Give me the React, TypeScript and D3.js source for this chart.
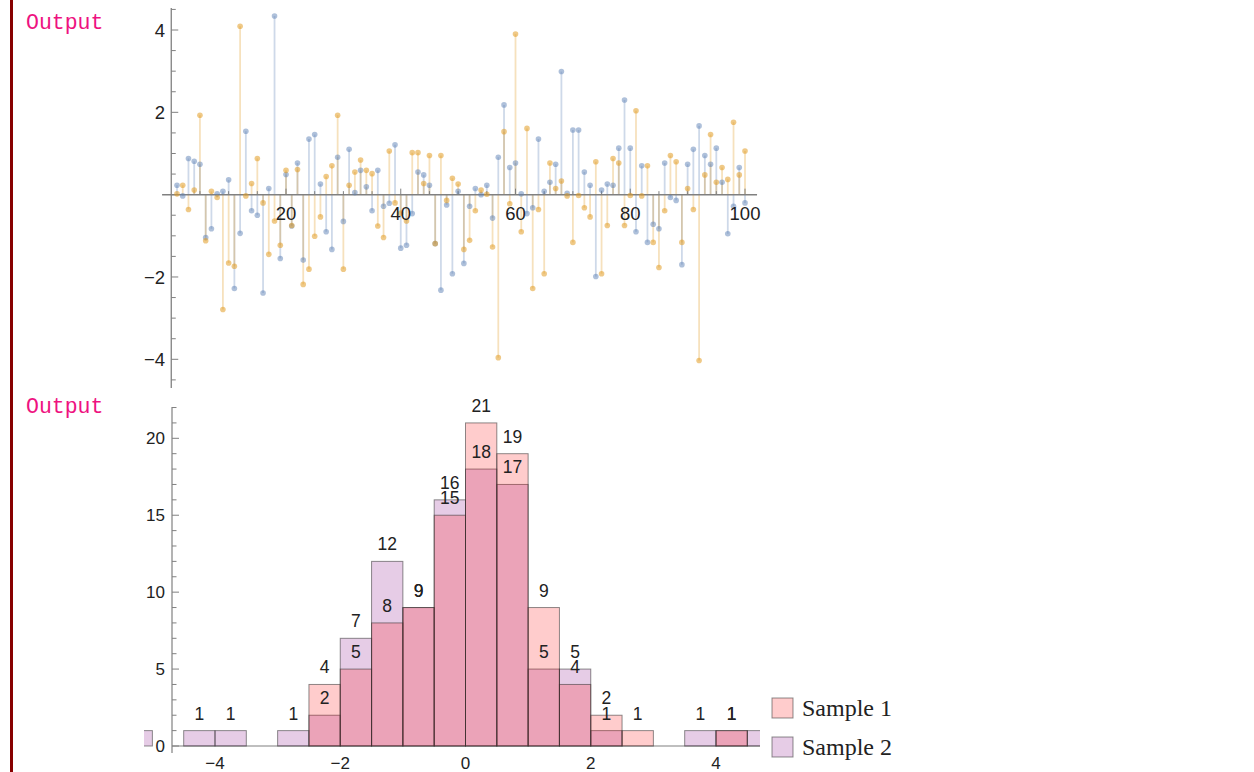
import React from "react";
import * as d3 from "d3";

// ---------- Stem plot data (index 1..100) ----------
const seriesBlue = [
  0.23, -0.03, 0.88, 0.81, 0.74, -1.04, -0.83, 0.02, 0.08, 0.36,
  -2.28, -0.94, 1.54, -0.39, -0.5, -2.39, 0.15, 4.34, -1.55, 0.49,
  -0.76, 0.77, -1.59, 1.35, 1.46, 0.26, -0.9, -1.33, 0.91, -0.65,
  1.1, 0.05, 0.59, 0.19, -0.39, 0.59, -0.28, -0.21, 1.21, -1.3,
  -1.23, -0.46, 0.55, 0.48, 0.23, -1.19, -2.32, -0.25, -1.92, 0.08,
  -1.67, -0.28, 0.15, 0.0, 0.23, -0.57, 0.91, 2.18, 0.66, 0.77,
  0.02, -0.46, -0.32, 1.35, 0.08, 0.3, 0.74, 2.99, 0.03, 1.57,
  1.57, 0.55, 0.23, -1.99, 0.11, 0.26, 0.23, 1.13, 2.3, 1.13,
  -0.9, 0.7, -1.16, -0.72, -0.83, 0.77, -0.07, -0.14, -1.7, 0.74,
  1.1, 1.67, 0.95, 0.74, 1.13, 0.3, -0.95, -0.28, 0.66, -0.2,
];
const seriesOrange = [
  0.02, 0.23, -0.36, 0.11, 1.93, -1.12, 0.08, -0.07, -2.79, -1.66,
  -1.74, 4.09, -0.03, 0.27, 0.88, -0.2, -1.45, -0.64, -1.23, 0.59,
  -0.75, 0.61, -2.18, -1.81, -1.01, -0.54, 0.44, 0.7, 1.93, -1.81,
  0.23, 0.55, 0.84, 0.59, 0.51, -0.76, -1.04, 1.06, -0.2, -0.45,
  -0.64, 1.02, 1.02, 0.27, 0.95, -1.19, 0.95, -0.14, 0.4, 0.26,
  -1.33, -1.11, -0.39, 0.11, 0.01, -1.27, -3.96, 1.53, -0.22, 3.9,
  -0.9, 1.61, -2.28, -0.36, -1.92, 0.77, 0.15, 0.33, -0.03, -1.16,
  -0.02, -0.32, -0.54, 0.8, -1.92, -0.75, 0.88, 0.77, -0.75, -0.02,
  2.04, -0.03, 0.7, -1.16, -1.77, -0.39, 0.95, 0.8, -1.16, 0.15,
  -0.36, -4.03, 0.48, 1.46, 0.3, 0.66, 0.37, 1.76, 0.48, 1.06,
];
const stemXTicks = [20, 40, 60, 80, 100];
const stemYTicks = [-4, -2, 2, 4];

// ---------- Histogram data ----------
const binEdges = [
  -5.5, -5, -4.5, -4, -3.5, -3, -2.5, -2, -1.5, -1, -0.5,
  0, 0.5, 1, 1.5, 2, 2.5, 3, 3.5, 4, 4.5, 5,
];
const sample1Counts = [0, 0, 0, 0, 0, 0, 4, 5, 8, 9, 15, 21, 19, 9, 4, 2, 1, 0, 0, 1, 0];
const sample2Counts = [1, 0, 1, 1, 0, 1, 2, 7, 12, 9, 16, 18, 17, 5, 5, 1, 0, 0, 1, 1, 1];
const histXTicks = [-4, -2, 0, 2, 4];
const histYTicks = [0, 5, 10, 15, 20];
const legendLabels = ["Sample 1", "Sample 2"];

const BLUE = "#5E81B5";
const ORANGE = "#E19C24";
const SANS = "'Liberation Sans', Arial, sans-serif";
const fmt = (v: number) => (v < 0 ? "\u2212" + Math.abs(v) : String(v));

export default function App() {
  // stem plot scales
  const sx = d3.scaleLinear().domain([0, 100]).range([171.26, 745]);
  const sy = d3.scaleLinear().domain([-4, 4]).range([359.3, 30]);
  const s0 = sy(0);
  const stemMinor = d3.range(-4.5, 4.51, 0.5);
  const stemXMinor = d3.range(5, 101, 5);

  // histogram scales
  const hx = d3.scaleLinear().domain([-4, 4]).range([215, 716]);
  const hy = d3.scaleLinear().domain([0, 20]).range([746, 438.3]);
  const h0 = hy(0);
  const histYMinor = d3.range(0, 23, 1);
  const clipL = 144;
  const clipR = 760;

  const bins = sample1Counts.map((c1, i) => ({
    x0: binEdges[i],
    x1: binEdges[i + 1],
    c1,
    c2: sample2Counts[i],
  }));

  return (
    <svg
      width={1254}
      height={772}
      style={{ position: "absolute", left: 0, top: 0, background: "#fff" }}
    >
      <defs>
        <clipPath id="histClip">
          <rect x={clipL} y={380} width={clipR - clipL} height={380} />
        </clipPath>
      </defs>
      <rect x={10} y={0} width={3} height={772} fill="#870000" />
      <text x={26} y={29} fontFamily="'Liberation Mono', 'DejaVu Sans Mono', monospace" fontSize={21.5} fill="#ee1280">
        Output
      </text>
      <text x={26} y={413} fontFamily="'Liberation Mono', 'DejaVu Sans Mono', monospace" fontSize={21.5} fill="#ee1280">
        Output
      </text>

      {/* ---------- Stem plot ---------- */}
      <g>
        {seriesBlue.map((v, i) => (
          <line key={"bs" + i} x1={sx(i + 1)} x2={sx(i + 1)} y1={s0} y2={sy(v)} stroke={BLUE} strokeOpacity={0.3} strokeWidth={1.8} />
        ))}
        {seriesOrange.map((v, i) => (
          <line key={"os" + i} x1={sx(i + 1)} x2={sx(i + 1)} y1={s0} y2={sy(v)} stroke={ORANGE} strokeOpacity={0.3} strokeWidth={1.8} />
        ))}
        {/* axes */}
        <line x1={sx(-1.6)} x2={sx(102.1)} y1={s0} y2={s0} stroke="#808080" strokeWidth={1.5} />
        <line x1={sx(0)} x2={sx(0)} y1={8} y2={388} stroke="#808080" strokeWidth={1.3} />
        {stemMinor.map((t) => {
          const major = Math.abs(t % 2) < 1e-9;
          return (
            <line key={"syt" + t} x1={sx(0)} x2={sx(0) + (major ? 7 : 4.5)} y1={sy(t)} y2={sy(t)} stroke="#808080" strokeWidth={1} />
          );
        })}
        {stemXMinor.map((t) => {
          const major = t % 20 === 0;
          return (
            <line key={"sxt" + t} x1={sx(t)} x2={sx(t)} y1={s0} y2={s0 - (major ? 6 : 3.5)} stroke="#808080" strokeWidth={1} />
          );
        })}
        {seriesBlue.map((v, i) => (
          <circle key={"bp" + i} cx={sx(i + 1)} cy={sy(v)} r={2.8} fill={BLUE} fillOpacity={0.5} />
        ))}
        {seriesOrange.map((v, i) => (
          <circle key={"op" + i} cx={sx(i + 1)} cy={sy(v)} r={2.8} fill={ORANGE} fillOpacity={0.55} />
        ))}
        {stemXTicks.map((t) => (
          <text key={"sxl" + t} x={sx(t)} y={220} textAnchor="middle" fontFamily={SANS} fontSize={18.5} fill="#222">
            {fmt(t)}
          </text>
        ))}
        {stemYTicks.map((t) => (
          <text key={"syl" + t} x={165} y={sy(t)} dy="0.36em" textAnchor="end" fontFamily={SANS} fontSize={18.5} fill="#222">
            {fmt(t)}
          </text>
        ))}
      </g>

      {/* ---------- Histogram ---------- */}
      <g>
        <line x1={172} x2={172} y1={407} y2={753} stroke="#808080" strokeWidth={1.2} />
        {histYMinor.map((t) => {
          const major = t % 5 === 0;
          return (
            <line key={"hyt" + t} x1={172} x2={172 + (major ? 7 : 4.5)} y1={hy(t)} y2={hy(t)} stroke="#808080" strokeWidth={1} />
          );
        })}
        <line x1={172} x2={clipR} y1={h0} y2={h0} stroke="#808080" strokeWidth={1.2} />
        <g clipPath="url(#histClip)">
          {bins.filter((b) => b.c2 > 0).map((b, i) => (
            <rect key={"h2" + i} x={hx(b.x0)} y={hy(b.c2)} width={hx(b.x1) - hx(b.x0)} height={h0 - hy(b.c2)}
              fill="rgb(130,0,130)" fillOpacity={0.2} stroke="rgb(50,50,50)" strokeOpacity={0.55} strokeWidth={1} />
          ))}
          {bins.filter((b) => b.c1 > 0).map((b, i) => (
            <rect key={"h1" + i} x={hx(b.x0)} y={hy(b.c1)} width={hx(b.x1) - hx(b.x0)} height={h0 - hy(b.c1)}
              fill="rgb(255,0,0)" fillOpacity={0.2} stroke="rgb(50,50,50)" strokeOpacity={0.55} strokeWidth={1} />
          ))}
        </g>
        {bins.flatMap((b, i) => {
          const cx = hx((b.x0 + b.x1) / 2);
          if (cx < clipL || cx > clipR) return [];
          const out: any[] = [];
          [b.c1, b.c2].forEach((c, k) => {
            if (c > 0) {
              out.push(
                <text key={"hl" + i + "_" + k} x={cx} y={hy(c) - 11} textAnchor="middle" fontFamily={SANS} fontSize={17.5} fill="#222">
                  {c}
                </text>
              );
            }
          });
          return out;
        })}
        {histXTicks.map((t) => (
          <text key={"hxl" + t} x={hx(t)} y={763} dy="0.36em" textAnchor="middle" fontFamily={SANS} fontSize={17} fill="#222">
            {fmt(t)}
          </text>
        ))}
        {histYTicks.map((t) => (
          <text key={"hyl" + t} x={165} y={hy(t)} dy="0.36em" textAnchor="end" fontFamily={SANS} fontSize={17} fill="#222">
            {fmt(t)}
          </text>
        ))}
        {/* legend */}
        {legendLabels.map((lab, i) => (
          <g key={lab}>
            <rect x={772} y={698 + i * 39} width={21} height={20}
              fill={i === 0 ? "rgb(255,0,0)" : "rgb(130,0,130)"} fillOpacity={0.2}
              stroke="rgb(50,50,50)" strokeOpacity={0.55} strokeWidth={1} />
            <text x={802} y={716 + i * 39} fontFamily="'Liberation Serif', 'Times New Roman', serif" fontSize={24} fill="#222">
              {lab}
            </text>
          </g>
        ))}
      </g>
    </svg>
  );
}
